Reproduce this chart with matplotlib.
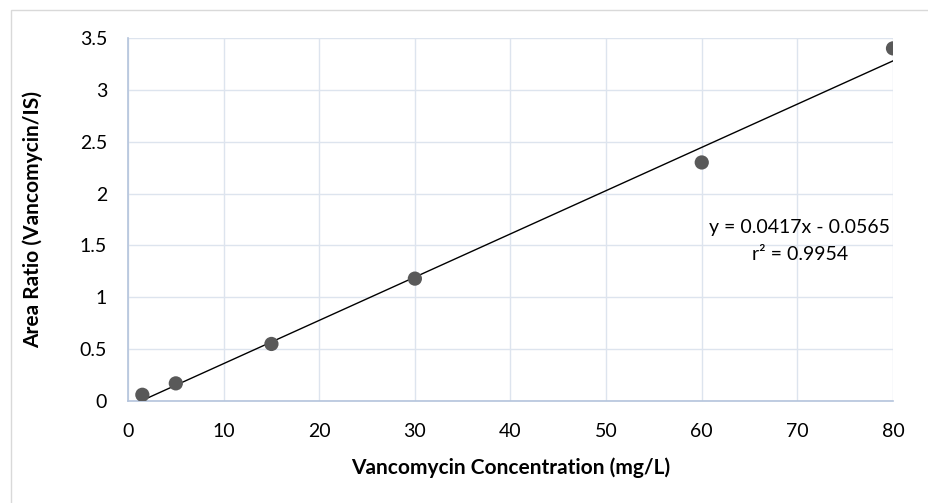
import matplotlib.pyplot as plt
from matplotlib.patches import Rectangle
import numpy as np

plt.rcParams['font.family'] = ['Lato', 'DejaVu Sans']

conc = [1.5, 5, 15, 30, 60, 80]
ratio = [0.06, 0.17, 0.55, 1.18, 2.30, 3.40]
slope = 0.0417
intercept = -0.0565
x_ticks = [0, 10, 20, 30, 40, 50, 60, 70, 80]
y_ticks = [0, 0.5, 1, 1.5, 2, 2.5, 3, 3.5]
y_labels = ['0', '0.5', '1', '1.5', '2', '2.5', '3', '3.5']

fig = plt.figure(figsize=(9.29, 5.03), dpi=100)
ax = fig.add_axes([128 / 929, 1 - 401 / 503, (893 - 128) / 929, (401 - 38) / 503])

# outer chart frame
fig.patches.append(Rectangle((11 / 929, -0.1), 1.2, 1 - 10 / 503 + 0.1,
                             transform=fig.transFigure, fill=False,
                             edgecolor='#d9d9d9', linewidth=1))

ax.scatter(conc, ratio, s=105, color='#595959', zorder=3, edgecolors='none')
xl = np.array([min(conc), max(conc)])
ax.plot(xl, slope * xl + intercept, color='black', linewidth=1, zorder=2)

ax.set_xlim(0, 80)
ax.set_ylim(0, 3.5)
ax.set_xticks(x_ticks)
ax.set_yticks(y_ticks)
ax.set_yticklabels(y_labels)
ax.tick_params(axis='y', length=0, labelsize=14, colors='black', pad=15)
ax.tick_params(axis='x', length=0, labelsize=14, colors='black', pad=16)
ax.grid(True, color='#dde4ee', linewidth=1)
ax.set_axisbelow(True)
for s in ['top', 'right']:
    ax.spines[s].set_visible(False)
for s in ['left', 'bottom']:
    ax.spines[s].set_color('#b4c4dc')
    ax.spines[s].set_linewidth(1.2)

ax.set_xlabel('Vancomycin Concentration (mg/L)', fontsize=15, fontweight='bold', va='center')
ax.set_ylabel('Area Ratio (Vancomycin/IS)', fontsize=15, fontweight='bold', va='center')
ax.xaxis.set_label_coords(0.5, (401 - 468) / 363)
ax.yaxis.set_label_coords((33 - 128) / 765, 0.5)

ax.text(800 / 929, 1 - 228 / 503, 'y = 0.0417x - 0.0565', transform=fig.transFigure,
        ha='center', va='center', fontsize=14)
ax.text(800 / 929, 1 - 254 / 503, 'r² = 0.9954', transform=fig.transFigure,
        ha='center', va='center', fontsize=14)

fig.savefig('out.png', dpi=100)
